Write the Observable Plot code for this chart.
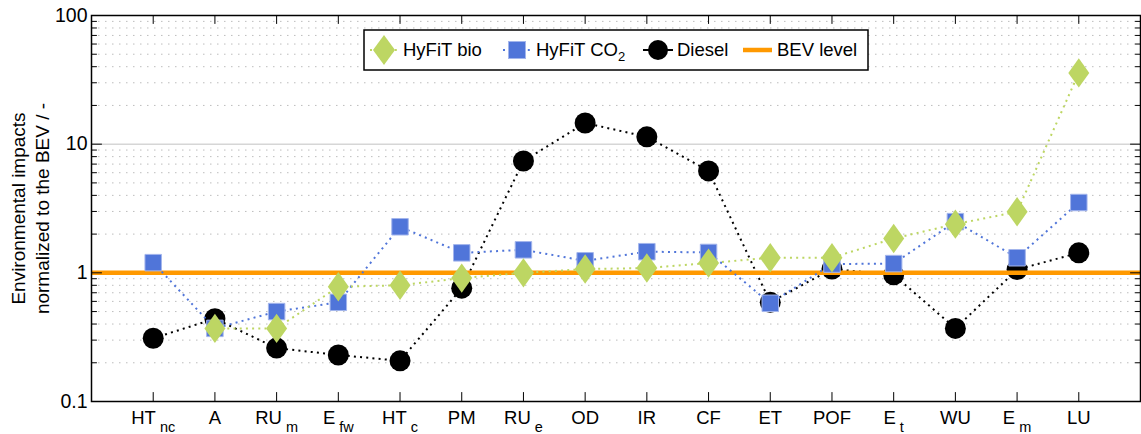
<!DOCTYPE html>
<html>
<head>
<meta charset="utf-8">
<script src="https://cdn.jsdelivr.net/npm/d3@7"></script>
<script src="https://cdn.jsdelivr.net/npm/@observablehq/plot@0.6"></script>
<style>
  body { margin: 0; background: #fff; }
  #chart { width: 1141px; height: 434px; }
  #chart svg { font-family: "Liberation Sans", Arial, sans-serif; }
</style>
</head>
<body>
<div id="chart"></div>
<script>
// Impact categories (underscore marks a subscript)
const categories = ["HT_nc", "A", "RU_m", "E_fw", "HT_c", "PM", "RU_e", "OD", "IR", "CF", "ET", "POF", "E_t", "WU", "E_m", "LU"];

// Environmental impacts normalized to the BEV
const hyfitBio = [null, 0.37, 0.37, 0.78, 0.80, 0.91, 1.0, 1.07, 1.09, 1.19, 1.31, 1.31, 1.85, 2.39, 2.98, 35.8];
const hyfitCO2 = [1.2, 0.37, 0.50, 0.59, 2.28, 1.43, 1.51, 1.24, 1.46, 1.44, 0.58, 1.17, 1.18, 2.5, 1.31, 3.52];
const diesel   = [0.31, 0.44, 0.26, 0.23, 0.207, 0.76, 7.4, 14.6, 11.4, 6.2, 0.59, 1.07, 0.965, 0.37, 1.06, 1.43];
const bevLevel = [1];

// Axis ticks
const yMajorTicks = [0.1, 1, 10, 100];
const yMinorTicks = [0.2, 0.3, 0.4, 0.5, 0.6, 0.7, 0.8, 0.9, 2, 3, 4, 5, 6, 7, 8, 9, 20, 30, 40, 50, 60, 70, 80, 90];
const yTitle = "Environmental impacts\nnormalized to the BEV / -";

const GREEN = "#bdd663", BLUE = "#5075d9", BLUE_EDGE = "#a3b5ec", ORANGE = "#ff9900";
const FONT = 18.5;

const idx = categories.map((_, i) => i);
const rows = idx.map(i => ({i, bio: hyfitBio[i], co2: hyfitCO2[i], diesel: diesel[i]}));

// tall diamond symbol
const diamond = {
  draw(ctx, size) {
    const s = Math.sqrt(size / Math.PI);
    const w = s * 1.0, h = s * 1.4;
    ctx.moveTo(0, -h); ctx.lineTo(w, 0); ctx.lineTo(0, h); ctx.lineTo(-w, 0); ctx.closePath();
  }
};
// straight tick line, drawn from the anchor inward
const tickShape = { draw(ctx, l) { ctx.moveTo(0, 0); ctx.lineTo(0, -l); } };
const dotted = "2,4.2";
const lineStyle = {strokeWidth: 2, strokeDasharray: dotted, strokeLinecap: "butt"};

const svg = Plot.plot({
  width: 1141,
  height: 434,
  marginLeft: 91,
  marginRight: 1,
  marginTop: 15,
  marginBottom: 33,
  style: {fontFamily: '"Liberation Sans", Arial, sans-serif', fontSize: FONT + "px", color: "black"},
  x: {type: "linear", domain: [-1, 16]},
  y: {type: "log", domain: [0.1, 100]},
  marks: [
    // grid
    Plot.ruleY(yMinorTicks, {stroke: "#bdbdbd", strokeWidth: 1, strokeDasharray: "1.5,5.5"}),
    Plot.ruleY([10], {stroke: "#d6d6d6", strokeWidth: 1.5}),

    // Diesel
    Plot.line(rows, {x: "i", y: "diesel", stroke: "black", ...lineStyle}),
    Plot.dot(rows, {x: "i", y: "diesel", r: 10.5, fill: "black"}),

    // BEV reference level
    Plot.ruleY(bevLevel, {stroke: ORANGE, strokeWidth: 4.5}),

    // HyFiT CO2
    Plot.line(rows, {x: "i", y: "co2", stroke: BLUE, ...lineStyle}),
    Plot.dot(rows, {x: "i", y: "co2", symbol: "square", r: 9.3, fill: BLUE, stroke: BLUE_EDGE, strokeWidth: 1}),

    // HyFiT bio
    Plot.line(rows, {x: "i", y: "bio", stroke: GREEN, ...lineStyle}),
    Plot.dot(rows, {x: "i", y: "bio", symbol: diamond, r: 10.5, fill: GREEN}),

    // inward ticks on all four sides
    Plot.vector(idx, {x: d => d, frameAnchor: "bottom", length: 9, rotate: 0, anchor: "start", shape: tickShape, stroke: "black", strokeWidth: 1}),
    Plot.vector(idx, {x: d => d, frameAnchor: "top", length: 8, rotate: 180, anchor: "start", shape: tickShape, stroke: "black", strokeWidth: 1}),
    Plot.vector(yMajorTicks, {y: d => d, frameAnchor: "left", length: 10, rotate: 90, anchor: "start", shape: tickShape, stroke: "black", strokeWidth: 1}),
    Plot.vector(yMinorTicks, {y: d => d, frameAnchor: "left", length: 5, rotate: 90, anchor: "start", shape: tickShape, stroke: "black", strokeWidth: 1}),
    Plot.vector(yMajorTicks, {y: d => d, frameAnchor: "right", length: 10, rotate: -90, anchor: "start", shape: tickShape, stroke: "black", strokeWidth: 1}),
    Plot.vector(yMinorTicks, {y: d => d, frameAnchor: "right", length: 5, rotate: -90, anchor: "start", shape: tickShape, stroke: "black", strokeWidth: 1}),

    Plot.frame({stroke: "black", strokeWidth: 1.5}),

    // axes labels
    Plot.axisY({ticks: yMajorTicks, tickFormat: d => String(d), tickSize: 0, tickPadding: 4, fontSize: 19.5, label: null}),
    Plot.axisX({ticks: idx, tickFormat: i => categories[i], tickSize: 0, tickPadding: 9, fontSize: FONT, label: null}),
    Plot.text([yTitle], {frameAnchor: "left", textAnchor: "middle", rotate: -90, dx: -62, fontSize: 19, lineHeight: 1.27, fill: "black"})
  ]
});

const root = d3.select(svg);

// subscripts for the category labels
root.selectAll('g[aria-label="x-axis tick label"] text').each(function () {
  const parts = this.textContent.split("_");
  if (parts.length > 1) {
    const t = d3.select(this);
    t.text(parts[0]);
    t.append("tspan").attr("dx", 4).attr("dy", 8.5).attr("font-size", 14.5).text(parts[1]);
  }
});

// legend box
const lg = root.append("g").attr("aria-label", "legend")
  .attr("font-size", FONT).attr("text-anchor", "start").attr("fill", "black");
lg.append("rect").attr("x", 364).attr("y", 30).attr("width", 504).attr("height", 40)
  .attr("fill", "white").attr("stroke", "black").attr("stroke-width", 1.5);
const ly = 50;
// HyFiT bio
lg.append("line").attr("x1", 370).attr("x2", 398).attr("y1", ly).attr("y2", ly)
  .attr("stroke", GREEN).attr("stroke-width", 2).attr("stroke-dasharray", dotted);
lg.append("path").attr("d", "M384,35L395,50L384,65L373,50Z").attr("fill", GREEN);
lg.append("text").attr("x", 403).attr("y", 56).text("HyFiT bio");
// HyFiT CO2
lg.append("line").attr("x1", 503).attr("x2", 531).attr("y1", ly).attr("y2", ly)
  .attr("stroke", BLUE).attr("stroke-width", 2).attr("stroke-dasharray", dotted);
lg.append("rect").attr("x", 508.5).attr("y", 41.5).attr("width", 17).attr("height", 17)
  .attr("fill", BLUE).attr("stroke", BLUE_EDGE);
const co2 = lg.append("text").attr("x", 536).attr("y", 56).text("HyFiT CO");
co2.append("tspan").attr("dy", 5).attr("font-size", 13).text("2");
// Diesel
lg.append("line").attr("x1", 643).attr("x2", 673).attr("y1", ly).attr("y2", ly)
  .attr("stroke", "black").attr("stroke-width", 2);
lg.append("circle").attr("cx", 658).attr("cy", ly).attr("r", 10).attr("fill", "black");
lg.append("text").attr("x", 677).attr("y", 56).text("Diesel");
// BEV level
lg.append("line").attr("x1", 743).attr("x2", 772).attr("y1", ly).attr("y2", ly)
  .attr("stroke", ORANGE).attr("stroke-width", 4.5);
lg.append("text").attr("x", 777).attr("y", 56).text("BEV level");

document.getElementById("chart").appendChild(svg);
</script>
</body>
</html>
